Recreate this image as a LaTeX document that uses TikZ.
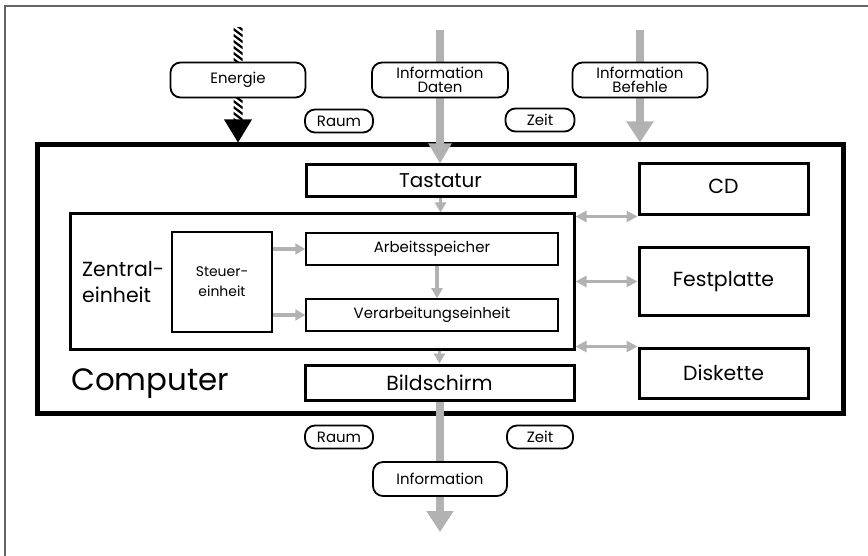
\documentclass[tikz,border=0pt]{standalone}
\usepackage{fontspec}
\setmainfont{Poppins}
\usetikzlibrary{arrows.meta,calc}
\definecolor{flowgray}{RGB}{178,178,178}
\definecolor{framegray}{RGB}{100,100,100}
\tikzset{
  heavybox/.style={draw, line width=3bp, minimum width=#1, inner sep=0pt},
  lightbox/.style={draw, line width=1.5bp, inner sep=0pt},
  tag/.style={draw, rounded corners=10bp, line width=1.8bp, fill=white, inner sep=0pt,
              font=\fontsize{15}{14.5}\selectfont, align=center},
  bigflow/.style={draw=flowgray, line width=8bp,
                  -{Triangle[width=26bp,length=21bp,color=flowgray]}},
  smallflow/.style={draw=flowgray, line width=3.5bp,
                  -{Triangle[width=11bp,length=10bp,color=flowgray]}},
  busflow/.style={draw=flowgray, line width=3.5bp,
                  {Triangle[width=11bp,length=11bp,color=flowgray]}-{Triangle[width=11bp,length=11bp,color=flowgray]}},
}
\begin{document}
\begin{tikzpicture}[x=1bp,y=-1bp]
\useasboundingbox (0,0) rectangle (868,556);
% frame on two sides
\draw[framegray, line width=2bp] (5,556) -- (5,6) -- (868,6);

% computer and its parts
\node[draw, line width=5bp, minimum width=805bp, minimum height=268bp, inner sep=0pt] (comp) at (440.5,279) {};
\node[heavybox=269bp, minimum height=32bp, font=\fontsize{20}{21}\selectfont] (tast) at (440.5,181) {Tastatur};
\node[heavybox=269bp, minimum height=35bp, font=\fontsize{20.5}{21}\selectfont] (bild) at (439.5,382.5) {Bildschirm};
\node[heavybox=169bp, minimum height=51bp, font=\fontsize{20.5}{21}\selectfont] (cd) at (723.5,189.5) {\raisebox{7bp}{CD}};
\node[heavybox=169bp, minimum height=67bp, font=\fontsize{20.5}{21}\selectfont] (fest) at (723.5,281.5) {Festplatte};
\node[heavybox=169bp, minimum height=50bp, font=\fontsize{20.5}{21}\selectfont] (disk) at (723.5,373) {\raisebox{-9bp}{Diskette}};
\node[heavybox=503bp, minimum height=135bp] (zent) at (322.5,281.5) {};
\node[lightbox, minimum width=100bp, minimum height=100bp, align=center, font=\fontsize{14}{20}\selectfont] (steu) at (222,282) {Steuer-\\einheit};
\node[lightbox, minimum width=252bp, minimum height=32bp, font=\fontsize{15}{16}\selectfont] (arb) at (432,249) {Arbeitsspeicher};
\node[lightbox, minimum width=252bp, minimum height=32bp, font=\fontsize{15}{16}\selectfont] (verarb) at (432,315) {Verarbeitungseinheit};
\node[anchor=west, align=left, inner sep=0pt, font=\fontsize{20.5}{27}\selectfont] (zentlabel) at (82,282) {Zentral-\\einheit};
\node[anchor=west, inner sep=0pt, font=\fontsize{31}{32}\selectfont] (complabel) at (71,384) {Computer};

% flows inside the computer
\draw[smallflow] (tast.south) -- (tast.south |- zent.north);
\draw[smallflow] (zent.south -| bild.north) -- (bild.north);
\draw[smallflow] (arb.south -| 437,0) -- (verarb.north -| 437,0);
\draw[smallflow] (steu.east |- arb.west) -- (arb.west);
\draw[smallflow] (steu.east |- verarb.west) -- (verarb.west);
\draw[busflow] (zent.east |- cd.south west) -- (cd.south west);
\draw[busflow] (zent.east |- fest.west) -- (fest.west);
\draw[busflow] (zent.east |- disk.north west) -- (disk.north west);

% incoming and outgoing flows
\coordinate (datain) at (440,30);
\coordinate (cmdin) at (640,30);
\coordinate (energyin) at (238,28);
\coordinate (infoout) at (440,532);
\draw[bigflow, -{Triangle[width=22bp,length=20bp,color=flowgray]}] (datain) -- (tast.north -| datain);
\draw[bigflow] (cmdin) -- (comp.north -| cmdin);
\draw[bigflow] (bild.south -| infoout) -- (infoout);
% hatched energy feed
\begin{scope}
  \clip ($(energyin)+(-4.5,0)$) rectangle ($(energyin)+(4.5,94)$);
  \foreach \y in {-6,0,...,96}
    \draw[line width=2.2bp] ($(energyin)+(-6,\y)$) -- ++(12,9);
\end{scope}
\fill ($(comp.north -| energyin)+(-14,-23)$) -- ($(comp.north -| energyin)+(14,-23)$) -- (comp.north -| energyin) -- cycle;

% labels on the flows
\node[tag, minimum width=135bp, minimum height=35bp] (energie) at (238,80) {Energie};
\node[tag, minimum width=136bp, minimum height=35bp] (infod) at (440,80) {Information\\Daten};
\node[tag, minimum width=135bp, minimum height=35bp] (infob) at (640,80) {Information\\Befehle};
\node[tag, minimum width=68bp, minimum height=23bp] (raumin) at (339,121) {Raum};
\node[tag, minimum width=69bp, minimum height=23bp] (zeitin) at (540,120) {Zeit};
\node[tag, minimum width=68bp, minimum height=23bp] (raumout) at (339,437) {Raum};
\node[tag, minimum width=66bp, minimum height=23bp] (zeitout) at (540,437) {Zeit};
\node[tag, minimum width=134bp, minimum height=34bp] (infoo) at (440,479) {Information};
\end{tikzpicture}
\end{document}
